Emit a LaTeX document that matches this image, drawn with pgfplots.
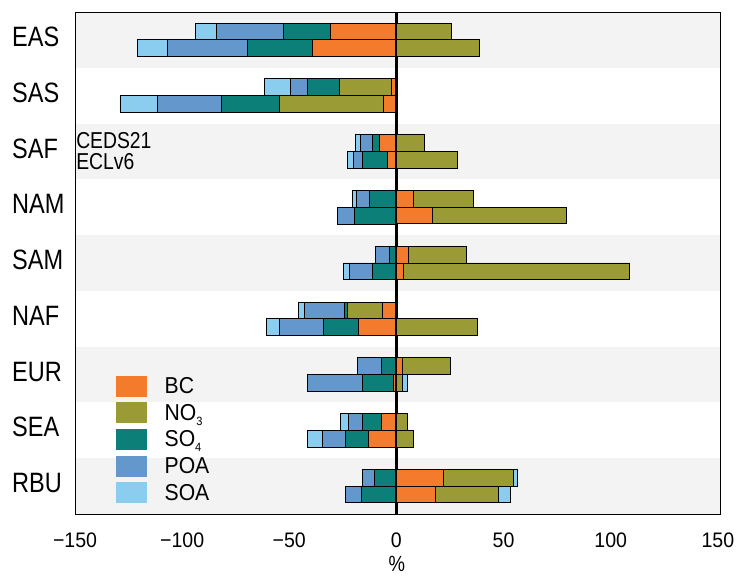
\documentclass[border=0pt]{standalone}
\usepackage{fontspec}
\setmainfont[FakeStretch=0.84]{Liberation Sans}
\newfontfamily\tickfont[FakeStretch=0.93]{Liberation Sans}
\newfontfamily\legfont[FakeStretch=0.92]{Liberation Sans}
\usepackage{pgfplots}
\pgfplotsset{compat=1.18}
\usepackage{pgfplotstable}
\definecolor{cBC}{HTML}{F47B2B}
\definecolor{cNO}{HTML}{9B9B36}
\definecolor{cSO}{HTML}{0B7F78}
\definecolor{cPOA}{HTML}{6497CB}
\definecolor{cSOA}{HTML}{8ACDEE}
\definecolor{band}{HTML}{F3F3F3}
\newcommand{\sub}[1]{\raisebox{-5pt}{\fontsize{12}{12}\selectfont #1}}

% negative contributions (CEDS21 at r+0.15, ECLv6 at r-0.15)
\pgfplotstableread{
y BC NO3 SO4 POA SOA
8.15 -30.8 0 -22.0 -31.2 -10.0
7.85 -39.4 0 -30.1 -37.5 -13.7
7.15 -2.5 -24.1 -15.0 -7.9 -11.9
6.85 -6.0 -48.7 -26.8 -30.0 -17.5
6.15 -8.0 0 -3.1 -5.7 -2.4
5.85 -4.1 0 -11.7 -4.4 -2.6
5.15 0 0 -12.6 -6.2 -1.6
4.85 0 0 -19.6 -8.1 0
4.15 0 0 -3.3 -6.7 0
3.85 0 0 -11.0 -11.0 -2.8
3.15 -6.4 -16.4 -1.5 -18.4 -3.1
2.85 -17.6 0 -16.4 -20.7 -5.9
2.15 0 0 -7.0 -11.0 0
1.85 -1.5 0 -14.2 -25.7 0
1.15 -7.2 0 -8.5 -6.6 -3.6
0.85 -12.9 0 -10.9 -10.9 -6.7
0.15 0 0 -10.3 -5.5 0
-0.15 0 0 -16.2 -7.7 0
}\negdata

% positive contributions
\pgfplotstableread{
y BC NO3 SOA
8.15 0 25.5 0
7.85 0 38.8 0
7.15 0 0 0
6.85 0 0 0
6.15 0 13.1 0
5.85 0 28.4 0
5.15 7.9 28.2 0
4.85 17.0 62.3 0
4.15 5.7 26.9 0
3.85 3.4 105.5 0
3.15 0 0 0
2.85 0 37.7 0
2.15 2.6 22.5 0
1.85 0 3.0 2.0
1.15 0 5.0 0
0.85 0 7.9 0
0.15 22.1 32.6 2.0
-0.15 18.1 29.6 5.6
}\posdata

\begin{document}
\begin{tikzpicture}[x=1pt,y=1pt]
\pgfplotsset{
  base/.style={
    scale only axis, width=645pt, height=502pt,
    xmin=-150, xmax=151, ymin=-0.5, ymax=8.5,
    xbar stacked, bar width=0.3,
    at={(75pt,63pt)}, anchor=south west,
  },
  seg/.style={fill=#1, draw=black, line width=0.9pt},
}
% background bands
\begin{axis}[base, hide axis]
\fill[band] (axis cs:-150,7.5) rectangle (axis cs:151,8.5);
\fill[band] (axis cs:-150,5.5) rectangle (axis cs:151,6.5);
\fill[band] (axis cs:-150,3.5) rectangle (axis cs:151,4.5);
\fill[band] (axis cs:-150,1.5) rectangle (axis cs:151,2.5);
\fill[band] (axis cs:-150,-0.5) rectangle (axis cs:151,0.5);
\end{axis}
% frame, labels, negative stacks
\begin{axis}[base,
  axis on top,
  axis line style={black, line width=0.8pt},
  xtick={-150,-100,-50,0,50,100,150},
  xticklabels={−150,−100,−50,0,50,100,150},
  ytick={0,1,2,3,4,5,6,7,8},
  yticklabels={RBU,SEA,EUR,NAF,SAM,NAM,SAF,SAS,EAS},
  major tick length=0pt,
  xticklabel style={font=\tickfont\fontsize{21}{21}\selectfont, inner sep=0pt, anchor=north, yshift=-19pt},
  yticklabel style={font=\fontsize{28}{28}\selectfont, inner sep=0pt, anchor=west, xshift=-63pt, yshift=3pt},
  xlabel={\%},
  xlabel style={at={(axis description cs:0.499,0)}, anchor=north, yshift=-42pt, inner sep=0pt, font=\fontsize{22}{22}\selectfont},
  legend image code/.code={\fill[#1,draw=none] (0pt,-10.5pt) rectangle (31pt,10.5pt); \path (48pt,0pt);},
  legend style={at={(axis description cs:0.0636,0.276)}, anchor=north west, draw=none, fill=none, inner sep=0pt,
    font=\legfont\fontsize{23}{23}\selectfont, row sep=5.7pt,
    nodes={inner sep=0pt, minimum height=21pt}},
  legend cell align=left,
]
\addplot[seg=cBC] table[x=BC,y=y]{\negdata};
\addlegendentry{BC}
\addplot[seg=cNO] table[x=NO3,y=y]{\negdata};
\addlegendentry{NO\sub{3}}
\addplot[seg=cSO] table[x=SO4,y=y]{\negdata};
\addlegendentry{SO\sub{4}}
\addplot[seg=cPOA] table[x=POA,y=y]{\negdata};
\addlegendentry{POA}
\addplot[seg=cSOA] table[x=SOA,y=y]{\negdata};
\addlegendentry{SOA}
\node[anchor=west, inner sep=0pt, font=\fontsize{23}{23}\selectfont] at (axis cs:-149.5,6.2) {CEDS21};
\node[anchor=west, inner sep=0pt, font=\fontsize{23}{23}\selectfont] at (axis cs:-149.5,5.82) {ECLv6};
\end{axis}
% positive stacks and zero line
\begin{axis}[base, hide axis]
\addplot[seg=cBC] table[x=BC,y=y]{\posdata};
\addplot[seg=cNO] table[x=NO3,y=y]{\posdata};
\addplot[seg=cSOA] table[x=SOA,y=y]{\posdata};
\draw[black, line width=2.3pt] (axis cs:0,-0.5) -- (axis cs:0,8.5);
\end{axis}
\pgfresetboundingbox
\useasboundingbox (0,0) rectangle (740,577);
\end{tikzpicture}
\end{document}
